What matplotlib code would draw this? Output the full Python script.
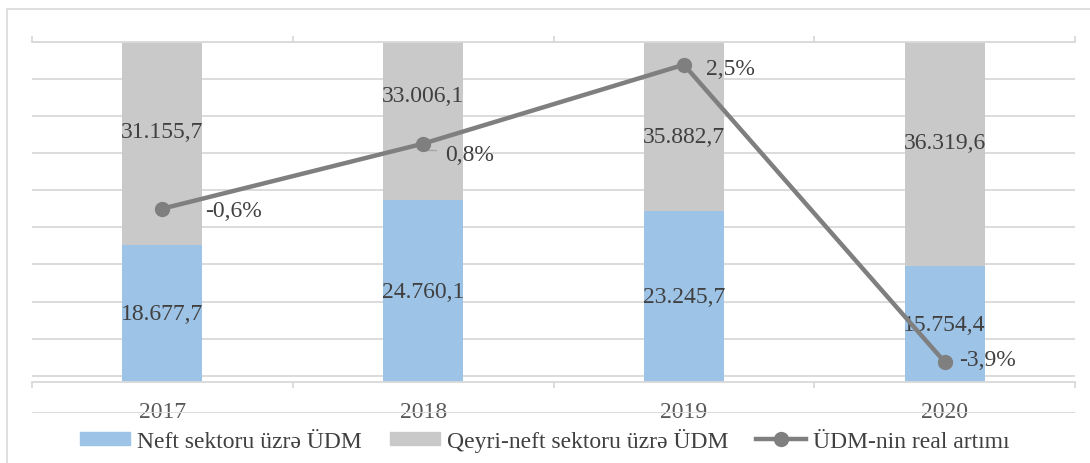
import numpy as np
import matplotlib
matplotlib.use("Agg")
import matplotlib.pyplot as plt
from matplotlib.patches import Rectangle
from matplotlib.lines import Line2D
from matplotlib.patches import Patch

years = ["2017", "2018", "2019", "2020"]
oil = [18677.7, 24760.1, 23245.7, 15754.4]
non_oil = [31155.7, 33006.1, 35882.7, 36319.6]
growth = [-0.6, 0.8, 2.5, -3.9]
oil_labels = ["18.677,7", "24.760,1", "23.245,7", "15.754,4"]
non_oil_labels = ["31.155,7", "33.006,1", "35.882,7", "36.319,6"]
growth_labels = ["-0,6%", "0,8%", "2,5%", "-3,9%"]

plt.rcParams['font.family'] = ['Liberation Serif', 'DejaVu Serif']
FS = 17
TXT = '#404040'
BLUE = '#9dc3e6'
GRAY = '#c9c9c9'
LINE = '#7f7f7f'
GRID = '#d9d9d9'

fig = plt.figure(figsize=(10.9, 4.64), dpi=100)
W, H = 1090, 464
# chart border (top and left visible)
fig.patches.append(Rectangle((7 / W, -0.1), 1.2, (464 - 10) / H + 0.1, transform=fig.transFigure,
                             fill=False, edgecolor='#d9d9d9', linewidth=1.2))

left, right, top, bottom = 32, 1075, 42.5, 414
ax = fig.add_axes([left / W, (H - bottom) / H, (right - left) / W, (bottom - top) / H])

x = np.arange(len(years))
bw = 0.307
lo, hi = -4218, 46327
ax.set_ylim(lo, hi)
ax.set_xlim(-0.5, len(years) - 0.5)
ax.set_yticks(np.linspace(lo, hi, 11))
ax.yaxis.grid(True, color=GRID, linewidth=1.3)
ax.set_axisbelow(True)

ax.bar(x, oil, bw, color=BLUE, zorder=2)
ax.bar(x, non_oil, bw, bottom=oil, color=GRAY, zorder=2)

for s in ['left', 'right']:
    ax.spines[s].set_visible(False)
ax.spines['bottom'].set_position(('data', 0))
ax.spines['bottom'].set_color(GRID)
ax.spines['bottom'].set_linewidth(1.3)
ax.spines['top'].set_color(GRID)
ax.spines['top'].set_linewidth(1.3)

ax.set_xticks(np.arange(len(years) + 1) - 0.5)
ax.set_xticklabels([])
ax.set_xticks(x, minor=True)
ax.set_xticklabels(years, minor=True, fontsize=FS, color='#595959')
ax.tick_params(axis='x', which='major', direction='out', length=4, width=1.3, color=GRID,
               top=True, bottom=True)
ax.tick_params(axis='x', which='minor', length=0, pad=14)

# bar labels
for i in range(len(years)):
    ax.text(x[i], oil[i] / 2, oil_labels[i], ha='center', va='center', fontsize=FS, color=TXT, zorder=3)
gray_offsets = [12, 25, -10, 11]  # px adjustments of gray labels
for i in range(len(years)):
    vis_top = min(oil[i] + non_oil[i], hi)
    mid = (oil[i] + vis_top) / 2
    ax.annotate(non_oil_labels[i], (x[i], mid), xytext=(0, gray_offsets[i] * 0.72),
                textcoords='offset points', ha='center', va='center', fontsize=FS, color=TXT, zorder=3)

ax2 = ax.twinx()
ax2.set_ylim(-5, 3)
ax2.axis('off')
ax.tick_params(axis='y', which='both', left=False, right=False, labelleft=False, labelright=False)

# leader line for the 0,8% label
ax2.annotate("", xy=(x[1], growth[1]), xytext=(x[1] + 0.06, growth[1] - 0.14),
             arrowprops=dict(arrowstyle='-', color='#a6a6a6', linewidth=1,
                             connectionstyle='angle,angleA=0,angleB=90,rad=0'), zorder=4)
ax2.plot(x, growth, color=LINE, linewidth=3.2, marker='o', markersize=10,
         solid_capstyle='round', zorder=5)
offs = [(43, -2), (22, -11), (22, -4), (14, 2)]
for i in range(len(years)):
    ax2.annotate(growth_labels[i], (x[i], growth[i]), xytext=(offs[i][0] * 0.72, offs[i][1] * 0.72),
                 textcoords='offset points', ha='left', va='center', fontsize=FS, color=TXT)

handles = [Patch(color=BLUE), Patch(color=GRAY),
           Line2D([], [], color=LINE, linewidth=3.2, marker='o', markersize=10)]
names = ["Neft sektoru üzrə ÜDM", "Qeyri-neft sektoru üzrə ÜDM", "ÜDM-nin real artımı"]
fig.legend(handles, names, loc='center', bbox_to_anchor=(0.5, (H - 441) / H), ncol=3,
           frameon=False, fontsize=FS, handlelength=2.1, handleheight=0.5, handletextpad=0.3,
           columnspacing=1.2, labelcolor=TXT, borderpad=0)

fig.savefig("out.png", dpi=100)
